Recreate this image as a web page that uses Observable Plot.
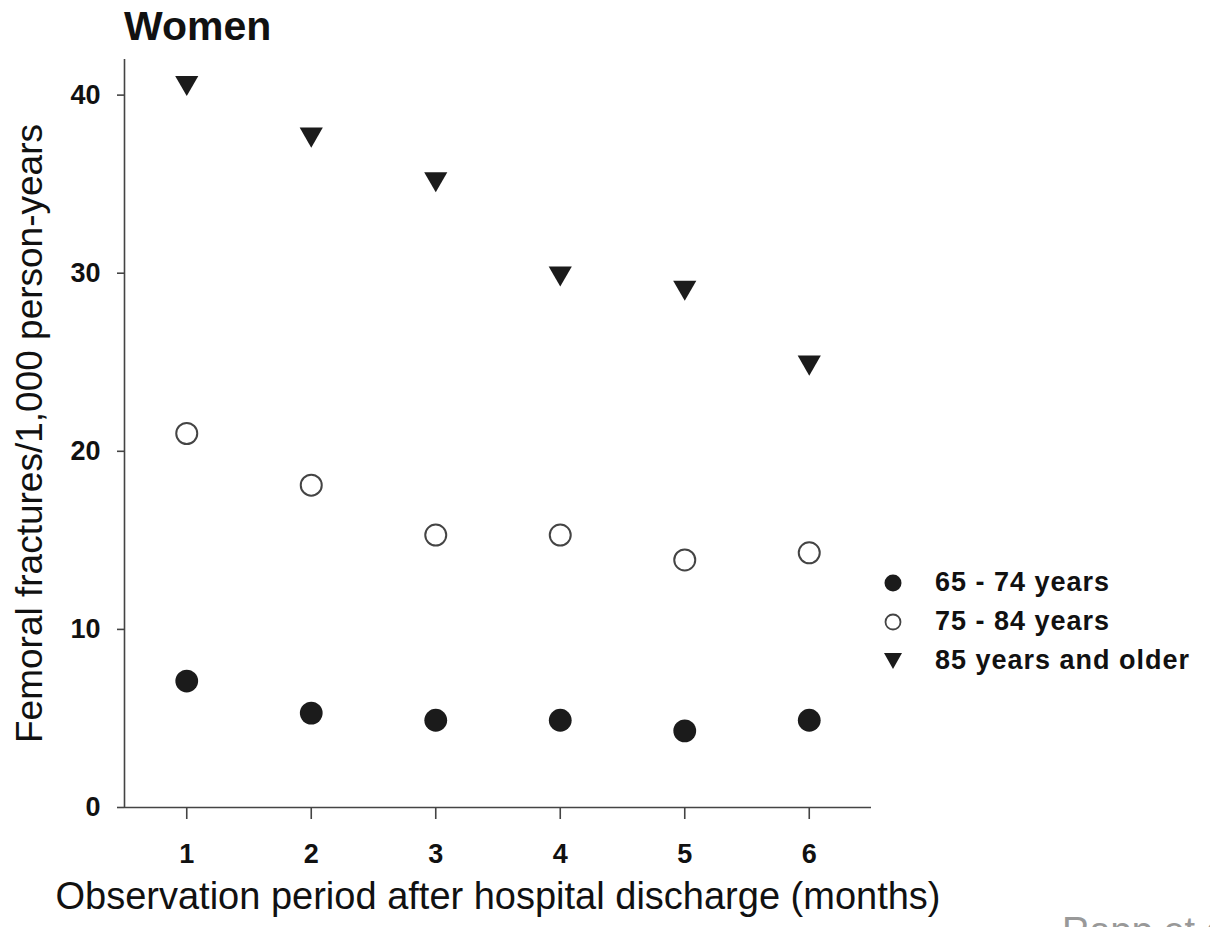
<!DOCTYPE html>
<html>
<head>
<meta charset="utf-8">
<script src="https://cdn.jsdelivr.net/npm/d3@7"></script>
<script src="https://cdn.jsdelivr.net/npm/@observablehq/plot@0.6"></script>
<style>
  html, body { margin: 0; padding: 0; background: #fff; overflow: hidden; }
  body { position: relative; width: 1210px; height: 927px; font-family: "Liberation Sans", Arial, sans-serif; color: #111; }
  #title { height: 50px; line-height: 50px; padding-left: 124px; font-size: 41px; font-weight: bold; box-sizing: border-box; padding-top: 1px; }
  #legend { position: absolute; left: 880px; top: 563px; font-size: 27px; font-weight: bold; letter-spacing: 1px; }
  #legend .row { height: 39px; display: flex; align-items: center; }
  #legend svg { width: 26px; height: 26px; margin-right: 29px; }
  #source { position: absolute; left: 1062px; top: 912px; font-size: 38px; line-height: 38px; color: #999; white-space: nowrap; }
</style>
</head>
<body>
<div id="title">Women</div>
<div id="chart"></div>
<div id="legend"></div>
<div id="source">Rapp et al.</div>
<script>
// Observation month after hospital discharge
const months = [1, 2, 3, 4, 5, 6];

// Femoral fractures per 1,000 person-years, by age group
const age65to74 = [7.1, 5.3, 4.9, 4.9, 4.3, 4.9];
const age75to84 = [21.0, 18.1, 15.3, 15.3, 13.9, 14.3];
const age85plus = [40.7, 37.8, 35.3, 30.0, 29.2, 25.0];

const seriesNames = ["65 - 74 years", "75 - 84 years", "85 years and older"];

const xTicks = [1, 2, 3, 4, 5, 6];
const yTicks = [0, 10, 20, 30, 40];

const xLabel = "Observation period after hospital discharge (months)";
const yLabel = "Femoral fractures/1,000 person-years";

// Long table built from the arrays above
const rows = [age65to74, age75to84, age85plus].flatMap((vals, i) =>
  months.map((m, j) => ({month: m, rate: vals[j], group: seriesNames[i]}))
);

const ink = "#1b1b1b";
const axisInk = "#444";

const chart = Plot.plot({
  width: 1210,
  height: 877,
  marginTop: 9,
  marginBottom: 120,
  marginLeft: 124,
  marginRight: 339,
  x: {domain: [0.5, 6.5]},
  y: {domain: [0, 42]},
  style: {
    fontFamily: "'Liberation Sans', Arial, sans-serif",
    fontSize: "27px",
    fontWeight: "bold",
    color: "#111",
    background: "#fff",
    overflow: "visible"
  },
  marks: [
    Plot.axisX({ticks: xTicks, tickFormat: d3.format("d"), tickSize: 12, tickPadding: 24, label: null, stroke: axisInk, strokeWidth: 1.6}),
    Plot.axisY({ticks: yTicks, tickFormat: d3.format("d"), tickSize: 7, tickPadding: 17, label: null, stroke: axisInk, strokeWidth: 1.6}),
    Plot.ruleX([0.5], {stroke: axisInk, strokeWidth: 1.6}),
    Plot.ruleY([0], {stroke: axisInk, strokeWidth: 1.6}),
    // 65 - 74: filled circles
    Plot.dot(rows.filter(d => d.group === seriesNames[0]), {
      x: "month", y: "rate", r: 11.4, fill: ink, stroke: "none", symbol: "circle"
    }),
    // 75 - 84: open circles
    Plot.dot(rows.filter(d => d.group === seriesNames[1]), {
      x: "month", y: "rate", r: 10.5, fill: "#fff", stroke: axisInk, strokeWidth: 2, symbol: "circle"
    }),
    // 85+: downward triangles
    Plot.dot(rows.filter(d => d.group === seriesNames[2]), {
      x: "month", y: "rate", r: 8.6, fill: ink, stroke: "none", symbol: "triangle", rotate: 180
    }),
    Plot.text([xLabel], {
      frameAnchor: "bottom", dy: 101, lineAnchor: "bottom",
      fontSize: 38, fontWeight: "normal", fill: "#111"
    }),
    Plot.text([yLabel], {
      frameAnchor: "left", dx: -83, rotate: -90, lineAnchor: "bottom", textAnchor: "middle",
      fontSize: 37, fontWeight: "normal", fill: "#111"
    })
  ]
});
document.getElementById("chart").appendChild(chart);

// Legend: symbol + label rows
const legend = d3.select("#legend");
const symbols = [
  s => s.append("circle").attr("cx", 13).attr("cy", 13).attr("r", 8.5).attr("fill", ink),
  s => s.append("circle").attr("cx", 13).attr("cy", 13).attr("r", 7.5).attr("fill", "#fff").attr("stroke", axisInk).attr("stroke-width", 1.8),
  s => s.append("path").attr("d", "M4,5 L22,5 L13,21 Z").attr("fill", ink)
];
seriesNames.forEach((name, i) => {
  const row = legend.append("div").attr("class", "row");
  const svg = row.append("svg").attr("viewBox", "0 0 26 26");
  symbols[i](svg);
  row.append("span").text(name);
});
</script>
</body>
</html>
